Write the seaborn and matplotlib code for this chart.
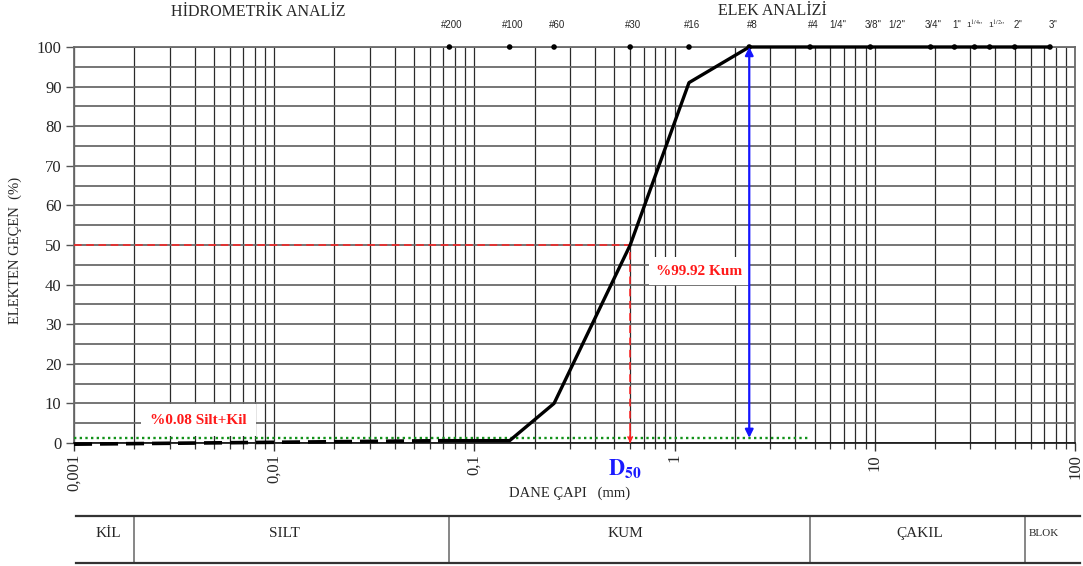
import matplotlib
matplotlib.use("Agg")
import matplotlib.pyplot as plt
import seaborn as sns
import pandas as pd
from matplotlib.ticker import LogLocator, NullFormatter, MultipleLocator, FixedLocator

# ---------------- data ----------------
hydro_mm = [0.001, 0.075]
hydro_pass = [-0.3, 0.6]

sieve_curve_mm = [0.075, 0.15, 0.25, 0.6, 1.18, 2.36, 4.75, 9.5, 19.0, 25.0, 31.5, 37.5, 50.0, 75.0]
sieve_curve_pass = [0.6, 0.6, 10.0, 50.0, 91.0, 100.0, 100.0, 100.0, 100.0, 100.0, 100.0, 100.0, 100.0, 100.0]

sieve_names = ['#200', '#100', '#60', '#30', '#16', '#8', '#4', '1/4"', '3/8"', '1/2"', '3/4"',
               '1"', r'1$^{1/4}$"', r'1$^{1/2}$"', '2"', '3"']
sieve_mm = [0.075, 0.15, 0.25, 0.6, 1.18, 2.36, 4.75, 6.3, 9.5, 12.5, 19.0, 25.0, 31.5, 37.5, 50.0, 75.0]
dot_mm = [0.075, 0.15, 0.25, 0.6, 1.18, 2.36, 4.75, 9.5, 19.0, 25.0, 31.5, 37.5, 50.0, 75.0]

x_ticks = [0.001, 0.01, 0.1, 1, 10, 100]
x_ticklabels = ['0,001', '0,01', '0,1', '1', '10', '100']
y_ticks = list(range(0, 101, 10))

d50 = 0.6
d50_pct = 50
fines_pct = 0.08
sand_pct = 99.92
fines_line = 1.3
sand_limit_mm = 2.36
gravel_limit_mm = 4.75

class_bounds = [0.001, 0.002, 0.075, 4.75, 56.0]
class_names = ['KİL', 'SILT', 'KUM', 'ÇAKIL', 'BLOK']
class_label_mm = [0.00148, 0.0112, 0.565, 16.8, 70.0]

# ---------------- style ----------------
sns.set_theme(style="ticks")
plt.rcParams['font.family'] = ['Liberation Serif', 'DejaVu Serif']
plt.rcParams['mathtext.fontset'] = 'stix'

W, H = 1083, 566
fig = plt.figure(figsize=(W / 100, H / 100), dpi=100)
ax = fig.add_axes([74 / W, 1 - 443 / H, (1075 - 74) / W, (443 - 47) / H])
ax.set_xscale('log')
ax.set_xlim(0.001, 100)
ax.set_ylim(0, 100)

# grid
ax.xaxis.set_minor_locator(LogLocator(base=10, subs=range(2, 10), numticks=50))
ax.xaxis.set_minor_formatter(NullFormatter())
ax.yaxis.set_minor_locator(MultipleLocator(5))
ax.xaxis.grid(True, which='both', color='#2a2a2a', lw=0.9, zorder=0)
ax.yaxis.grid(True, which='both', color='#6a6a6a', lw=1.3, zorder=0)
ax.set_axisbelow(True)

for s in ['left', 'top', 'right']:
    ax.spines[s].set_color('#6a6a6a')
    ax.spines[s].set_linewidth(1.3)
ax.spines['bottom'].set_color('#111111')
ax.spines['bottom'].set_linewidth(1.2)

ax.set_xticks(x_ticks)
ax.set_xticklabels(x_ticklabels)
ax.set_yticks(y_ticks)
ax.tick_params(axis='x', which='major', length=6, width=1, color='#333', labelsize=12,
               labelrotation=90, pad=2)
ax.tick_params(axis='x', which='minor', length=4, width=0.9, color='#333')
ax.tick_params(axis='y', which='major', length=6, width=1, color='#555', labelsize=12, pad=3)
ax.tick_params(axis='y', which='minor', length=0)

# curves
sns.lineplot(x=hydro_mm, y=hydro_pass, ax=ax, color='black', lw=2.6,
             linestyle=(0, (5, 2.2)), clip_on=False, zorder=4, sort=False)
sns.lineplot(x=sieve_curve_mm, y=sieve_curve_pass, ax=ax, color='black', lw=2.4,
             clip_on=False, zorder=4, sort=False)
sns.scatterplot(x=dot_mm, y=[100] * len(dot_mm), ax=ax, color='black', s=16,
                edgecolor='none', clip_on=False, zorder=6)

# sieve labels
label_dx = {r'1$^{1/4}$"': 0.0, r'1$^{1/2}$"': 5.0}
for name, mm in zip(sieve_names, sieve_mm):
    small = '$' in name
    ax.annotate(name, xy=(mm, 100), xytext=(label_dx.get(name, 2.0), 16), textcoords='offset points',
                ha='center', va='center', fontsize=6.0 if small else 7,
                family=['Liberation Sans', 'DejaVu Sans'], annotation_clip=False)

# green fines line
ax.hlines(fines_line, 0.001, gravel_limit_mm, colors='#12921a', linestyles=(0, (1, 1.4)), lw=1.7, zorder=3)

# D50 lines
ax.hlines(d50_pct, 0.001, d50, colors='#ff2020', linestyles=(0, (5, 3)), lw=1.1, zorder=3)
ax.vlines(d50, 0, d50_pct, colors='#ff2020', linestyles=(0, (5, 3)), lw=1.1, zorder=3)
ax.annotate('', xy=(d50, 0), xytext=(d50, 3),
            arrowprops=dict(arrowstyle='->', color='#ff2020', lw=1.1, shrinkA=0, shrinkB=0,
                            mutation_scale=8))
ax.annotate(r'$\mathbf{D}_{\mathbf{50}}$', xy=(d50, 0), xytext=(-4, -18), textcoords='offset points',
            ha='center', va='center', color='#1a1aff', fontsize=16, annotation_clip=False)

# blue sand arrow
ax.annotate('', xy=(sand_limit_mm, 100), xytext=(sand_limit_mm, fines_line),
            arrowprops=dict(arrowstyle='<|-|>', color='#1515ff', lw=1.6, shrinkA=0, shrinkB=0,
                            mutation_scale=12), zorder=7)

# percentage labels
ax.text(0.0042, 5.8, f'%{fines_pct:.2f} Silt+Kil', color='#ff1a1a', fontsize=11, fontweight='bold',
        ha='center', va='center', zorder=5,
        bbox=dict(boxstyle='square,pad=0.6', fc='white', ec='none'))
ax.text(1.33, 43.4, f'%{sand_pct:.2f} Kum', color='#ff1a1a', fontsize=11, fontweight='bold',
        ha='center', va='center', zorder=5,
        bbox=dict(boxstyle='square,pad=0.5', fc='white', ec='none'))

# axis labels
ax.set_xlabel('DANE ÇAPI   (mm)', fontsize=10.5)
ax.xaxis.set_label_coords(0.4955, -0.126)
ax.xaxis.label.set_va('center')
ax.set_ylabel('ELEKTEN GEÇEN  (%)', fontsize=10.5)
ax.yaxis.set_label_coords(-0.059, 0.487)
ax.yaxis.label.set_va('center')

# headers
fig.text(258 / W, 1 - 12 / H, 'HİDROMETRİK ANALİZ', ha='center', va='center', fontsize=11.5)
fig.text(772 / W, 1 - 11 / H, 'ELEK ANALİZİ', ha='center', va='center', fontsize=11.5)

# classification table
tax = fig.add_axes([76 / W, 1 - 563 / H, (1080 - 76) / W, (563 - 516) / H])
tax.set_xscale('log')
tax.set_xlim(10 ** -2.99, 10 ** 2.025)
tax.set_ylim(0, 1)
tax.set_xticks([])
tax.set_yticks([])
tax.xaxis.set_minor_locator(FixedLocator([]))
tax.set_facecolor('white')
for s in ['left', 'right']:
    tax.spines[s].set_visible(False)
for s in ['top', 'bottom']:
    tax.spines[s].set_color('#333')
    tax.spines[s].set_linewidth(1.6)
for b in class_bounds:
    tax.axvline(b, color='#666', lw=1.1)
for name, mm in zip(class_names, class_label_mm):
    tax.text(mm, 0.62, name, ha='center', va='center',
             fontsize=8 if name == 'BLOK' else 11)

fig.savefig('out.png', dpi=100)
